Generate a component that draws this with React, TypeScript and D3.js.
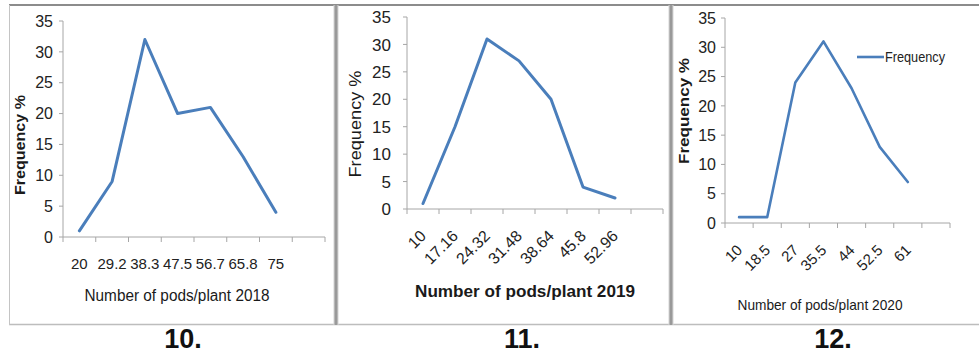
import React from "react";
import * as d3 from "d3";

// Frequency distributions of the number of pods per plant, one panel per year
const pods2018 = ["20", "29.2", "38.3", "47.5", "56.7", "65.8", "75", ""];
const freq2018 = [1, 9, 32, 20, 21, 13, 4];

const pods2019 = ["10", "17.16", "24.32", "31.48", "38.64", "45.8", "52.96", ""];
const freq2019 = [1, 15, 31, 27, 20, 4, 2];

const pods2020 = ["10", "18.5", "27", "35.5", "44", "52.5", "61", ""];
const freq2020 = [1, 1, 24, 31, 23, 13, 7];

const yTicks = [0, 5, 10, 15, 20, 25, 30, 35];

const LINE = "#4a7ebb";
const AXIS = "#a6a6a6";
const FONT = "'Liberation Sans', Arial, sans-serif";

type PanelLayout = {
  categories: string[];
  values: number[];
  xLeft: number;
  xRight: number;
  yBottom: number;
  yTop: number;
  rotated: boolean;
  tickFont: number;
  yTickFont: number;
  yLabelEnd: number;
  yTitle: { x: number; y: number; len: number; size: number; bold: boolean };
  xTitle: { text: string; x: number; y: number; len: number; size: number; bold: boolean };
  number: { text: string; x: number };
  lineWidth: number;
  legend?: { x: number; y: number };
};

const panels: PanelLayout[] = [
  {
    categories: pods2018,
    values: freq2018,
    xLeft: 63,
    xRight: 325,
    yBottom: 237,
    yTop: 21,
    rotated: false,
    tickFont: 15,
    yTickFont: 16,
    yLabelEnd: 53,
    yTitle: { x: 20, y: 145, len: 100, size: 15, bold: true },
    xTitle: { text: "Number of pods/plant 2018", x: 177, y: 301, len: 185, size: 16, bold: false },
    number: { text: "10.", x: 183 },
    lineWidth: 3,
  },
  {
    categories: pods2019,
    values: freq2019,
    xLeft: 407,
    xRight: 663,
    yBottom: 209,
    yTop: 17,
    rotated: true,
    tickFont: 16,
    yTickFont: 17,
    yLabelEnd: 391,
    yTitle: { x: 355, y: 124, len: 107, size: 17, bold: false },
    xTitle: { text: "Number of pods/plant 2019", x: 525, y: 297, len: 220, size: 17, bold: true },
    number: { text: "11.", x: 522 },
    lineWidth: 3,
  },
  {
    categories: pods2020,
    values: freq2020,
    xLeft: 725,
    xRight: 950,
    yBottom: 223,
    yTop: 18,
    rotated: true,
    tickFont: 15,
    yTickFont: 16,
    yLabelEnd: 716,
    yTitle: { x: 684, y: 111, len: 106, size: 15, bold: true },
    xTitle: { text: "Number of pods/plant 2020", x: 820, y: 310, len: 165, size: 15, bold: false },
    number: { text: "12.", x: 833 },
    lineWidth: 2.6,
    legend: { x: 857, y: 57 },
  },
];

function Panel({ p }: { p: PanelLayout }) {
  const x = d3
    .scaleBand<string>()
    .domain(p.categories)
    .range([p.xLeft, p.xRight])
    .paddingInner(0)
    .paddingOuter(0);
  const y = d3.scaleLinear().domain([0, 35]).range([p.yBottom, p.yTop]);
  const bw = x.bandwidth();
  const cx = (i: number) => (x(p.categories[i]) as number) + bw / 2;

  const line = d3
    .line<number>()
    .x((_, i) => cx(i))
    .y((d) => y(d));

  const boundaries = d3.range(p.categories.length + 1).map((i) => p.xLeft + i * bw);

  return (
    <g fontFamily={FONT}>
      {/* y axis */}
      <line x1={p.xLeft} x2={p.xLeft} y1={y(35)} y2={y(0)} stroke={AXIS} strokeWidth={1} />
      {yTicks.map((t) => (
        <g key={t}>
          <line x1={p.xLeft - 4} x2={p.xLeft} y1={y(t)} y2={y(t)} stroke={AXIS} strokeWidth={1} />
          <text
            x={p.yLabelEnd}
            y={y(t)}
            dy="0.36em"
            textAnchor="end"
            fontSize={p.yTickFont}
            fill="#222"
          >
            {t}
          </text>
        </g>
      ))}
      {/* x axis */}
      <line x1={p.xLeft} x2={p.xRight} y1={y(0)} y2={y(0)} stroke={AXIS} strokeWidth={1} />
      {boundaries.map((bx, i) => (
        <line key={i} x1={bx} x2={bx} y1={y(0)} y2={y(0) + 5} stroke={AXIS} strokeWidth={1} />
      ))}
      {p.categories.map((c, i) =>
        c === "" ? null : p.rotated ? (
          <text
            key={i}
            transform={`translate(${cx(i) + 4},${y(0) + 28}) rotate(-45)`}
            textAnchor="end"
            fontSize={p.tickFont}
            fill="#222"
          >
            {c}
          </text>
        ) : (
          <text
            key={i}
            x={cx(i)}
            y={y(0) + 32}
            textAnchor="middle"
            fontSize={p.tickFont}
            fill="#222"
          >
            {c}
          </text>
        )
      )}
      {/* series */}
      <path
        d={line(p.values) || ""}
        fill="none"
        stroke={LINE}
        strokeWidth={p.lineWidth}
        strokeLinejoin="round"
        strokeLinecap="round"
      />
      {/* axis titles */}
      <text
        transform={`translate(${p.yTitle.x},${p.yTitle.y}) rotate(-90)`}
        textAnchor="middle"
        dy="0.36em"
        fontSize={p.yTitle.size}
        fontWeight={p.yTitle.bold ? "bold" : "normal"}
        textLength={p.yTitle.len}
        lengthAdjust="spacingAndGlyphs"
        fill="#1a1a1a"
      >
        Frequency %
      </text>
      <text
        x={p.xTitle.x}
        y={p.xTitle.y}
        textAnchor="middle"
        fontSize={p.xTitle.size}
        fontWeight={p.xTitle.bold ? "bold" : "normal"}
        textLength={p.xTitle.len}
        lengthAdjust="spacingAndGlyphs"
        fill="#1a1a1a"
      >
        {p.xTitle.text}
      </text>
      {p.legend && (
        <g>
          <line
            x1={p.legend.x}
            x2={p.legend.x + 27}
            y1={p.legend.y}
            y2={p.legend.y}
            stroke={LINE}
            strokeWidth={2.6}
          />
          <text
            x={p.legend.x + 28}
            y={p.legend.y}
            dy="0.36em"
            fontSize={15}
            textLength={60}
            lengthAdjust="spacingAndGlyphs"
            fill="#222"
          >
            Frequency
          </text>
        </g>
      )}
      {/* panel number */}
      <text
        x={p.number.x}
        y={348}
        textAnchor="middle"
        fontSize={27}
        fontWeight="bold"
        fill="#111"
      >
        {p.number.text}
      </text>
    </g>
  );
}

export default function App() {
  return (
    <svg
      width={979}
      height={358}
      style={{ position: "absolute", left: 0, top: 0, background: "#fff" }}
    >
      {/* frame around the three panels */}
      <line x1={9} x2={979} y1={5} y2={5} stroke="#8c8c8c" strokeWidth={2} />
      <line x1={9} x2={979} y1={324.5} y2={324.5} stroke="#bdbdbd" strokeWidth={1.5} />
      <line x1={9.5} x2={9.5} y1={5} y2={325} stroke="#c4c4c4" strokeWidth={1} />
      {[336, 671].map((sx) => (
        <g key={sx}>
          <rect x={sx - 2.5} y={5} width={5} height={320} fill="#d6d6d6" />
          <rect x={sx - 1.5} y={5} width={3} height={320} fill="#999" />
        </g>
      ))}
      {panels.map((p, i) => (
        <Panel key={i} p={p} />
      ))}
    </svg>
  );
}
